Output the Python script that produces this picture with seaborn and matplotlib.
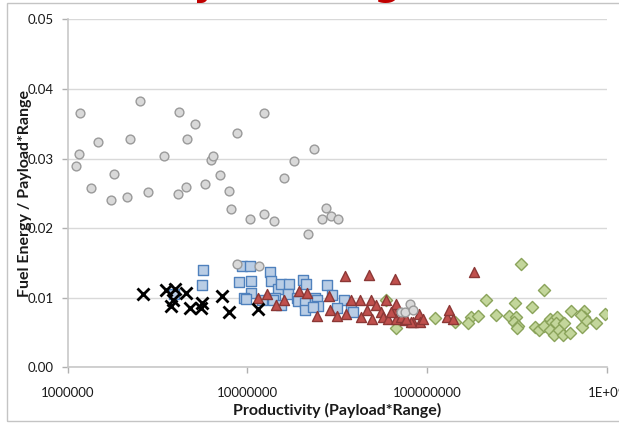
import matplotlib
matplotlib.use("Agg")
import matplotlib.pyplot as plt
import seaborn as sns
import pandas as pd
from matplotlib.patches import Rectangle

# ---------------- data ----------------
gray_x = [1.17e6, 1.15e6, 1.11e6, 1.47e6, 1.35e6, 2.53e6, 2.23e6, 1.80e6, 1.75e6, 2.13e6,
          2.78e6, 3.43e6, 4.17e6, 4.60e6, 5.13e6, 4.13e6, 4.56e6, 5.78e6, 6.26e6, 6.45e6,
          7.00e6, 7.85e6, 8.11e6, 8.69e6, 1.03e7, 1.23e7, 1.24e7, 1.40e7, 1.60e7, 1.82e7,
          2.18e7, 2.34e7, 2.74e7, 2.59e7, 2.92e7, 3.20e7, 8.73e6, 1.16e7, 7.14e7, 7.52e7,
          8.04e7, 8.38e7]
gray_y = [0.0365, 0.0306, 0.0289, 0.0324, 0.0258, 0.0383, 0.0328, 0.0278, 0.0241, 0.0245,
          0.0252, 0.0303, 0.0367, 0.0328, 0.0350, 0.0249, 0.0259, 0.0264, 0.0298, 0.0304,
          0.0276, 0.0253, 0.0228, 0.0336, 0.0213, 0.0220, 0.0365, 0.0210, 0.0272, 0.0296,
          0.0192, 0.0314, 0.0229, 0.0213, 0.0217, 0.0213, 0.0149, 0.0145, 0.0079, 0.0079,
          0.0091, 0.0083]

black_x = [2.63e6, 3.52e6, 3.96e6, 4.54e6, 3.83e6, 3.76e6, 4.77e6, 5.56e6, 5.50e6, 7.18e6,
           7.88e6, 1.15e7]
black_y = [0.0106, 0.0111, 0.0113, 0.0107, 0.0096, 0.0088, 0.0085, 0.0092, 0.0085, 0.0102,
           0.0079, 0.0084]

blue_x = [5.66e6, 5.56e6, 3.88e6, 8.99e6, 9.29e6, 1.03e7, 1.04e7, 1.04e7, 9.62e6, 9.87e6,
          1.20e7, 1.33e7, 1.36e7, 1.47e7, 1.54e7, 1.71e7, 1.67e7, 1.43e7, 1.39e7, 1.54e7,
          1.89e7, 1.92e7, 2.04e7, 2.12e7, 2.10e7, 2.10e7, 2.36e7, 2.43e7, 2.48e7, 2.31e7,
          2.78e7, 2.94e7, 3.45e7, 3.15e7, 3.79e7, 3.87e7]
blue_y = [0.0140, 0.0118, 0.0105, 0.0122, 0.0146, 0.0146, 0.0124, 0.0107, 0.0100, 0.0098,
          0.0096, 0.0137, 0.0124, 0.0112, 0.0119, 0.0119, 0.0106, 0.0100, 0.0096, 0.0090,
          0.0099, 0.0095, 0.0126, 0.0119, 0.0092, 0.0083, 0.0100, 0.0096, 0.0088, 0.0087,
          0.0118, 0.0104, 0.0096, 0.0085, 0.0085, 0.0080]

red_x = [1.15e7, 1.28e7, 1.45e7, 1.60e7, 1.94e7, 2.15e7, 2.45e7, 2.84e7, 2.88e7, 3.15e7,
         3.48e7, 3.55e7, 3.79e7, 4.21e7, 4.30e7, 4.72e7, 4.85e7, 4.62e7, 4.91e7, 5.16e7,
         5.51e7, 5.67e7, 5.92e7, 6.61e7, 6.44e7, 6.72e7, 6.04e7, 6.72e7, 6.30e7, 7.48e7,
         8.31e7, 9.05e7, 9.13e7, 9.53e7, 1.28e8, 1.32e8, 1.81e8, 1.39e8, 7.17e7, 8.14e7,
         7.63e7]
red_y = [0.0100, 0.0105, 0.0089, 0.0096, 0.0110, 0.0107, 0.0074, 0.0103, 0.0082, 0.0073,
         0.0131, 0.0076, 0.0096, 0.0096, 0.0072, 0.0133, 0.0096, 0.0082, 0.0070, 0.0089,
         0.0080, 0.0072, 0.0096, 0.0127, 0.0083, 0.0091, 0.0070, 0.0070, 0.0080, 0.0068,
         0.0065, 0.0077, 0.0065, 0.0069, 0.0072, 0.0083, 0.0137, 0.0070, 0.0072, 0.0065,
         0.0070]

green_x = [3.33e8, 4.48e8, 2.11e8, 3.09e8, 3.82e8, 6.33e8, 7.48e8, 9.69e8, 1.10e8, 1.43e8,
           1.75e8, 1.91e8, 1.69e8, 2.41e8, 2.84e8, 3.13e8, 3.04e8, 3.21e8, 3.17e8, 3.96e8,
           4.21e8, 4.48e8, 4.79e8, 4.95e8, 5.25e8, 5.21e8, 4.79e8, 5.10e8, 5.44e8, 5.68e8,
           5.80e8, 6.23e8, 7.26e8, 7.48e8, 7.63e8, 7.18e8, 8.74e8, 5.90e7, 6.70e7]
green_y = [0.0148, 0.0111, 0.0097, 0.0093, 0.0087, 0.0081, 0.0081, 0.0077, 0.0071, 0.0065,
           0.0072, 0.0073, 0.0063, 0.0075, 0.0073, 0.0072, 0.0065, 0.0060, 0.0057, 0.0058,
           0.0054, 0.0060, 0.0070, 0.0065, 0.0072, 0.0063, 0.0053, 0.0046, 0.0053, 0.0046,
           0.0063, 0.0050, 0.0058, 0.0072, 0.0068, 0.0075, 0.0064, 0.0096, 0.0057]

x_ticks = [1e6, 1e7, 1e8, 1e9]
x_tick_labels = ["1000000", "10000000", "100000000", "1E+09"]
y_ticks = [0.00, 0.01, 0.02, 0.03, 0.04, 0.05]
x_title = "Productivity (Payload*Range)"
y_title = "Fuel Energy / Payload*Range"
chart_title = "Efficiency vs Range"

# ---------------- style ----------------
sns.set_theme(style="white")
plt.rcParams["font.family"] = ["Lato", "DejaVu Sans"]

fig = plt.figure(figsize=(6.19, 4.26), dpi=100)
ax = fig.add_axes([67.7 / 619, 1 - 367.3 / 426, (607 - 67.7) / 619, (367.3 - 19.3) / 426])

series = [
    (blue_x, blue_y, "s", 42, "#b9cde5", "#4f81bd", 1.0, 3),
    (green_x, green_y, "D", 38, "#c3d69b", "#8aa35a", 1.0, 3),
    (red_x, red_y, "^", 52, "#c0504d", "#8c3836", 1.0, 4),
    (gray_x, gray_y, "o", 40, "#d9d9d9", "#9a9a9a", 1.0, 5),
]
for xs, ys, mk, s, fc, ec, lw, z in series:
    df = pd.DataFrame({"x": xs, "y": ys})
    sns.scatterplot(data=df, x="x", y="y", marker=mk, s=s, color=fc,
                    edgecolor=ec, linewidth=lw, ax=ax, zorder=z, legend=False)

dfx = pd.DataFrame({"x": black_x, "y": black_y})
sns.scatterplot(data=dfx, x="x", y="y", marker="x", s=75, color="black",
                linewidth=2.0, ax=ax, zorder=6, legend=False)

ax.set_xscale("log")
ax.set_xlim(1e6, 1e9)
ax.set_ylim(0, 0.05)
ax.set_xticks(x_ticks)
ax.set_xticklabels(x_tick_labels)
ax.xaxis.set_minor_locator(matplotlib.ticker.NullLocator())
ax.set_yticks(y_ticks)
ax.yaxis.set_major_formatter(matplotlib.ticker.FormatStrFormatter("%.2f"))

ax.grid(axis="y", color="#d9d9d9", linewidth=1.0)
ax.grid(axis="x", visible=False)
ax.set_axisbelow(True)
for side in ["top", "right"]:
    ax.spines[side].set_visible(False)
for side in ["left", "bottom"]:
    ax.spines[side].set_color("#c8c8c8")
    ax.spines[side].set_linewidth(1.2)

ax.tick_params(axis="both", which="major", direction="out", length=4, width=1,
               color="#b0b0b0", labelsize=9.5, labelcolor="#1a1a1a")
ax.tick_params(axis="y", pad=6)
ax.tick_params(axis="x", pad=10)
ax.tick_params(left=True, bottom=True)

ax.set_xlabel(x_title, fontsize=11.5, fontweight="bold", color="#1a1a1a")
ax.set_ylabel(y_title, fontsize=11.5, fontweight="bold", color="#1a1a1a")
ax.xaxis.set_label_coords(0.499, (367.3 - 410) / 348)
ax.xaxis.label.set_verticalalignment("center")
ax.yaxis.set_label_coords((25 - 67.7) / 539.3, 0.5)
ax.yaxis.label.set_verticalalignment("center")

# chart border (cut off at right) and cropped title
fig.patches.append(Rectangle((6.5 / 619, 1 - 421 / 426), 1.2, (421 - 3.3) / 426,
                             transform=fig.transFigure, fill=False,
                             edgecolor="#c4c4c4", linewidth=1.0, zorder=0))
fig.text(10 / 619, 1 + 4.5 / 426, chart_title, color="#c00000", fontsize=27.4,
         fontweight="bold", family="DejaVu Sans", ha="left", va="baseline")

fig.savefig("out.png", dpi=100)
